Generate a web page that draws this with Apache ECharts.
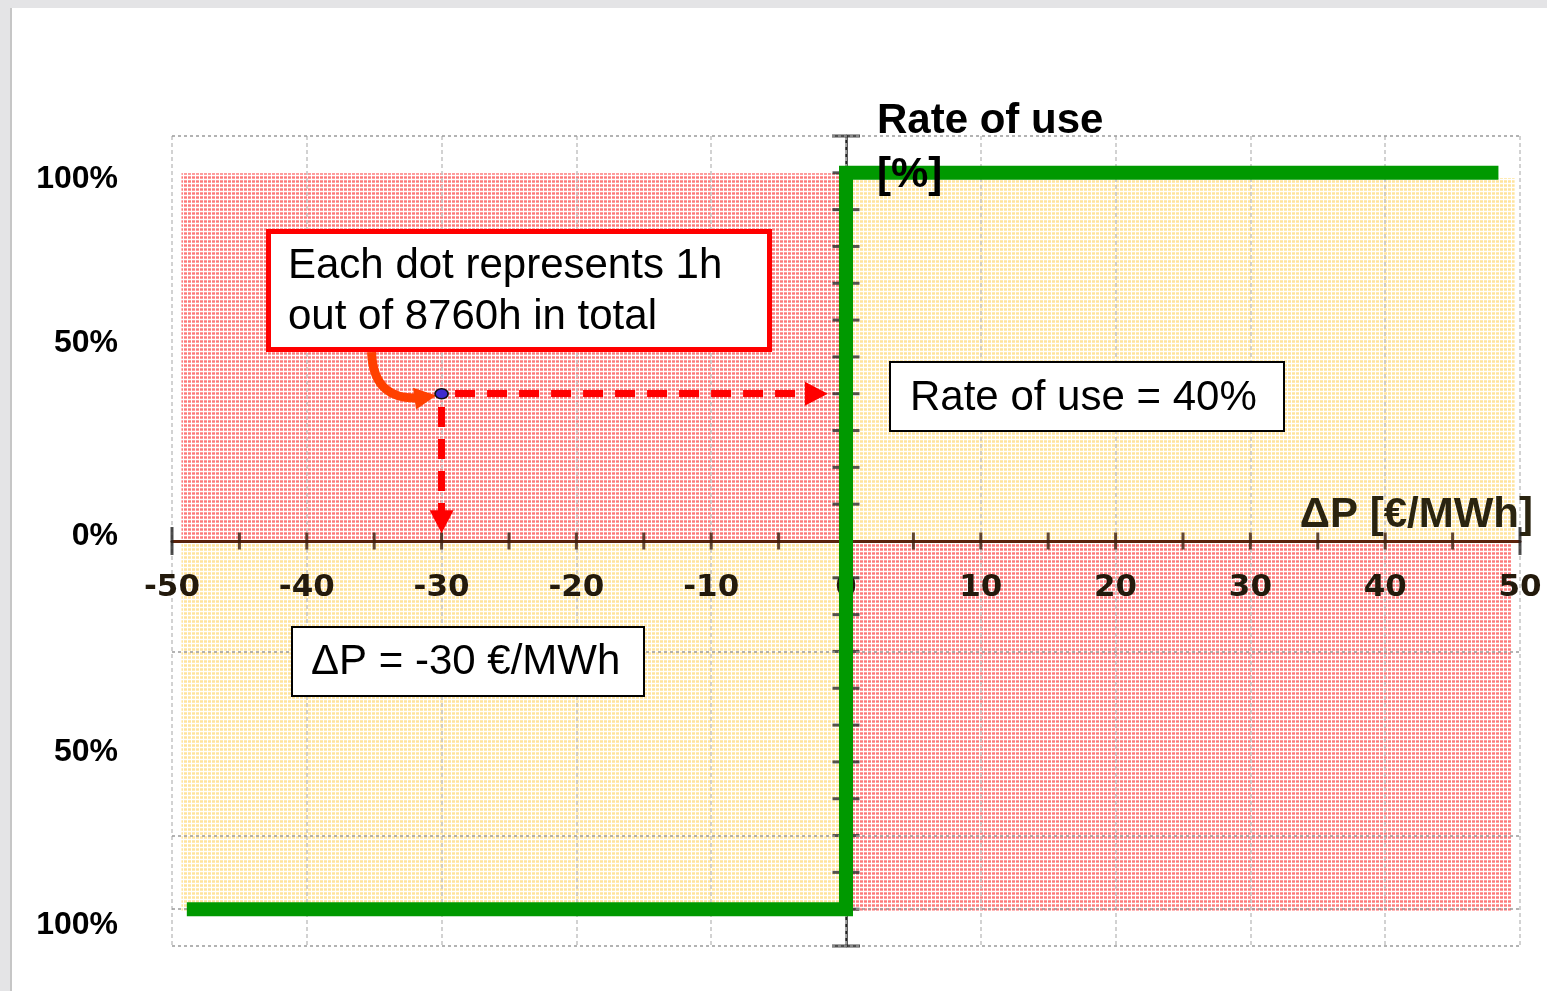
<!DOCTYPE html>
<html>
<head>
<meta charset="utf-8">
<title>Rate of use vs price spread</title>
<script src="https://cdn.jsdelivr.net/npm/echarts@6/dist/echarts.min.js"></script>
<style>
html, body { margin: 0; padding: 0; background: #fff; }
#chart { width: 1547px; height: 991px; }
</style>
</head>
<body>
<div id="chart"></div>
<script>
// ΔP axis ticks (every 5 €/MWh), ends drawn longer
var xMinorTicks = [-45, -40, -35, -30, -25, -20, -15, -10, -5, 5, 10, 15, 20, 25, 30, 35, 40, 45];
var xEndTicks = [-50, 50];
// rate of use axis ticks (every 10 %)
var yMinorTicks = [-100, -90, -80, -70, -60, -50, -40, -30, -20, -10, 10, 20, 30, 40, 50, 60, 70, 80, 90, 100];
var yEndTicks = [-110, 110];
// dotted horizontal gridlines of the original plot
var hGridValues = [110, -30, -80, -100, -110];
// left-hand percentage labels (positions as drawn on the slide)
var pctLabelValues = [98.4, 53.6, 1.4, -57.3, -104.3];
var pctLabelTexts = ['100%', '50%', '0%', '50%', '100%'];

// rate of use as a function of ΔP (step)
var stepX = [-48.9, 0, 0, 48.4];
var stepY = [-100, -100, 100, 100];

// one hour: ΔP = -30 €/MWh, rate of use = 40 %
var hourDot = [-30, 40];

// annotation arrows
var hArrow = [[-29.0, 40], [-2.2, 40]];
var vArrow = [[-30, 36.4], [-30, 5.2]];
var pointerArrow = [[-35.2, 51.3], [-31.2, 39.1]];

// shaded quadrants [[x0, y0], [x1, y1]]
var redAreas = [[[-49.3, 99.9], [-0.4, 0]], [[0.5, 0], [49.4, -100.4]]];
var yellowAreas = [[[0.5, 98.6], [49.6, 0]], [[-49.3, 0], [-0.4, -100.4]]];

function makePattern(cell, stripe) {
  var c = document.createElement('canvas');
  c.width = 4;
  c.height = 4;
  var ctx = c.getContext('2d');
  ctx.fillStyle = cell;
  ctx.fillRect(0, 0, 3, 3);
  ctx.fillStyle = stripe;
  ctx.fillRect(0, 1, 3, 1);
  return { image: c, repeat: 'repeat' };
}

var redFill = makePattern('rgba(255,100,100,0.62)', 'rgba(240,40,40,0.3)');
var yellowFill = makePattern('rgba(255,215,105,0.5)', 'rgba(255,195,70,0.2)');

function toArea(a, fill) {
  return [
    { coord: a[0], itemStyle: { color: fill } },
    { coord: a[1] }
  ];
}

var chart = echarts.init(document.getElementById('chart'));

var option = {
  animation: false,
  backgroundColor: '#fff',
  grid: { left: 172, right: 27, top: 136, bottom: 45, containLabel: false, outerBoundsMode: 'none' },
  xAxis: {
    type: 'value',
    z: 2,
    min: -50,
    max: 50,
    interval: 10,
    position: 'bottom',
    offset: -405,
    name: 'ΔP [€/MWh]',
    nameLocation: 'end',
    nameGap: 13,
    nameTextStyle: {
      fontFamily: 'Liberation Sans',
      fontWeight: 'bold',
      fontSize: 42,
      color: '#2a2410',
      align: 'right',
      verticalAlign: 'bottom',
      padding: [0, 0, 5, 0]
    },
    axisLine: { onZero: false, lineStyle: { color: '#5a230c', width: 3 } },
    axisTick: { show: false },
    axisLabel: {
      margin: 31,
      fontFamily: 'DejaVu Sans',
      fontWeight: 'bold',
      fontSize: 31,
      color: '#231a0c'
    },
    splitLine: { show: true, lineStyle: { color: '#c4c4c4', type: [4, 3], width: 1.5 } }
  },
  yAxis: [
    {
      type: 'value',
      min: -110,
      max: 110,
      axisLine: { show: true, onZero: true, lineStyle: { color: '#222', width: 2.5 } },
      axisTick: { show: false },
      axisLabel: { show: false },
      splitLine: { show: false }
    },
    {
      type: 'value',
      position: 'left',
      min: -110,
      max: 110,
      axisLine: { show: false, onZero: false },
      axisTick: { show: false },
      splitLine: { show: false },
      axisLabel: {
        customValues: pctLabelValues,
        margin: 54,
        fontFamily: 'Liberation Sans',
        fontWeight: 'bold',
        fontSize: 32,
        color: '#000',
        formatter: function (v) {
          var i = pctLabelValues.indexOf(v);
          return i >= 0 ? pctLabelTexts[i] : '';
        }
      }
    }
  ],
  series: [
    {
      name: 'quadrants',
      type: 'scatter',
      data: [],
      silent: true,
      z: 1,
      markArea: {
        silent: true,
        data: redAreas.map(function (a) { return toArea(a, redFill); })
          .concat(yellowAreas.map(function (a) { return toArea(a, yellowFill); }))
      },
      markLine: {
        silent: true,
        symbol: 'none',
        label: { show: false },
        lineStyle: { color: '#9a9a9a', type: [3, 3], width: 1.5 },
        data: hGridValues.map(function (v) { return { yAxis: v }; })
      }
    },
    {
      name: 'xTicks',
      type: 'scatter',
      silent: true,
      z: 3,
      symbol: 'rect',
      symbolSize: [3, 17],
      itemStyle: { color: '#3b1d0c' },
      data: xMinorTicks.map(function (v) { return [v, 0]; })
    },
    {
      name: 'xEnds',
      type: 'scatter',
      silent: true,
      z: 3,
      symbol: 'rect',
      symbolSize: [3, 28],
      itemStyle: { color: '#222' },
      data: xEndTicks.map(function (v) { return [v, 0]; })
    },
    {
      name: 'yTicks',
      type: 'scatter',
      silent: true,
      z: 3,
      symbol: 'rect',
      symbolSize: [27, 3],
      itemStyle: { color: '#2a2a2a' },
      data: yMinorTicks.map(function (v) { return [0, v]; })
    },
    {
      name: 'yEnds',
      type: 'scatter',
      silent: true,
      z: 3,
      symbol: 'rect',
      symbolSize: [28, 3],
      itemStyle: { color: '#222' },
      data: yEndTicks.map(function (v) { return [0, v]; })
    },
    {
      name: 'Rate of use',
      type: 'line',
      z: 5,
      showSymbol: false,
      silent: true,
      lineStyle: { color: '#009900', width: 14, cap: 'butt', join: 'miter' },
      data: stepX.map(function (x, i) { return [x, stepY[i]]; })
    },
    {
      name: 'pointer',
      type: 'lines',
      coordinateSystem: 'cartesian2d',
      z: 6,
      silent: true,
      symbol: ['none', 'triangle'],
      symbolSize: [28, 22],
      lineStyle: { color: '#ff4000', width: 9, curveness: -0.55, opacity: 1 },
      data: [{ coords: pointerArrow }]
    },
    {
      name: 'hour',
      type: 'scatter',
      z: 7,
      silent: true,
      symbolSize: [13, 10],
      itemStyle: { color: '#3d2ccf', borderColor: '#111', borderWidth: 1.5, opacity: 1 },
      data: [hourDot],
      markLine: {
        silent: true,
        symbol: ['none', 'triangle'],
        symbolSize: [24, 23],
        label: { show: false },
        lineStyle: { color: '#ff0000', type: [20, 12], width: 7, opacity: 1 },
        data: [
          [{ coord: hArrow[0] }, { coord: hArrow[1] }],
          [{ coord: vArrow[0] }, { coord: vArrow[1] }]
        ]
      }
    }
  ],
  graphic: [
    { type: 'rect', silent: true, z: 0, shape: { x: 0, y: 0, width: 1547, height: 8 }, style: { fill: '#e4e4e6' } },
    { type: 'rect', silent: true, z: 0, shape: { x: 0, y: 0, width: 10, height: 991 }, style: { fill: '#e4e4e6' } },
    { type: 'rect', silent: true, z: 0, shape: { x: 10, y: 8, width: 2, height: 983 }, style: { fill: '#c6c6c6' } },
    {
      type: 'text', silent: true, z: 100, x: 877, y: 94,
      style: {
        text: 'Rate of use\n[%]',
        fontFamily: 'Liberation Sans', fontWeight: 'bold', fontSize: 42,
        lineHeight: 54, fill: '#000'
      }
    },
    {
      type: 'group', silent: true, z: 100,
      children: [
        { type: 'rect', z: 100, shape: { x: 268.5, y: 231.5, width: 501, height: 118 },
          style: { fill: '#fff', stroke: '#ff0000', lineWidth: 5 } },
        { type: 'text', z: 101, x: 288, y: 240.5,
          style: { text: 'Each dot represents 1h\nout of 8760h in total',
            fontFamily: 'Liberation Sans', fontSize: 42, lineHeight: 51, fill: '#000' } }
      ]
    },
    {
      type: 'group', silent: true, z: 100,
      children: [
        { type: 'rect', z: 100, shape: { x: 890, y: 362, width: 394, height: 69 },
          style: { fill: '#fff', stroke: '#000', lineWidth: 2 } },
        { type: 'text', z: 101, x: 910, y: 398,
          style: { text: 'Rate of use = 40%', verticalAlign: 'middle',
            fontFamily: 'Liberation Sans', fontSize: 42, fill: '#000' } }
      ]
    },
    {
      type: 'group', silent: true, z: 100,
      children: [
        { type: 'rect', z: 100, shape: { x: 292, y: 627, width: 352, height: 69 },
          style: { fill: '#fff', stroke: '#000', lineWidth: 2 } },
        { type: 'text', z: 101, x: 311, y: 662,
          style: { text: 'ΔP = -30 €/MWh', verticalAlign: 'middle',
            fontFamily: 'Liberation Sans', fontSize: 42, fill: '#000' } }
      ]
    }
  ]
};

chart.setOption(option);
</script>
</body>
</html>
